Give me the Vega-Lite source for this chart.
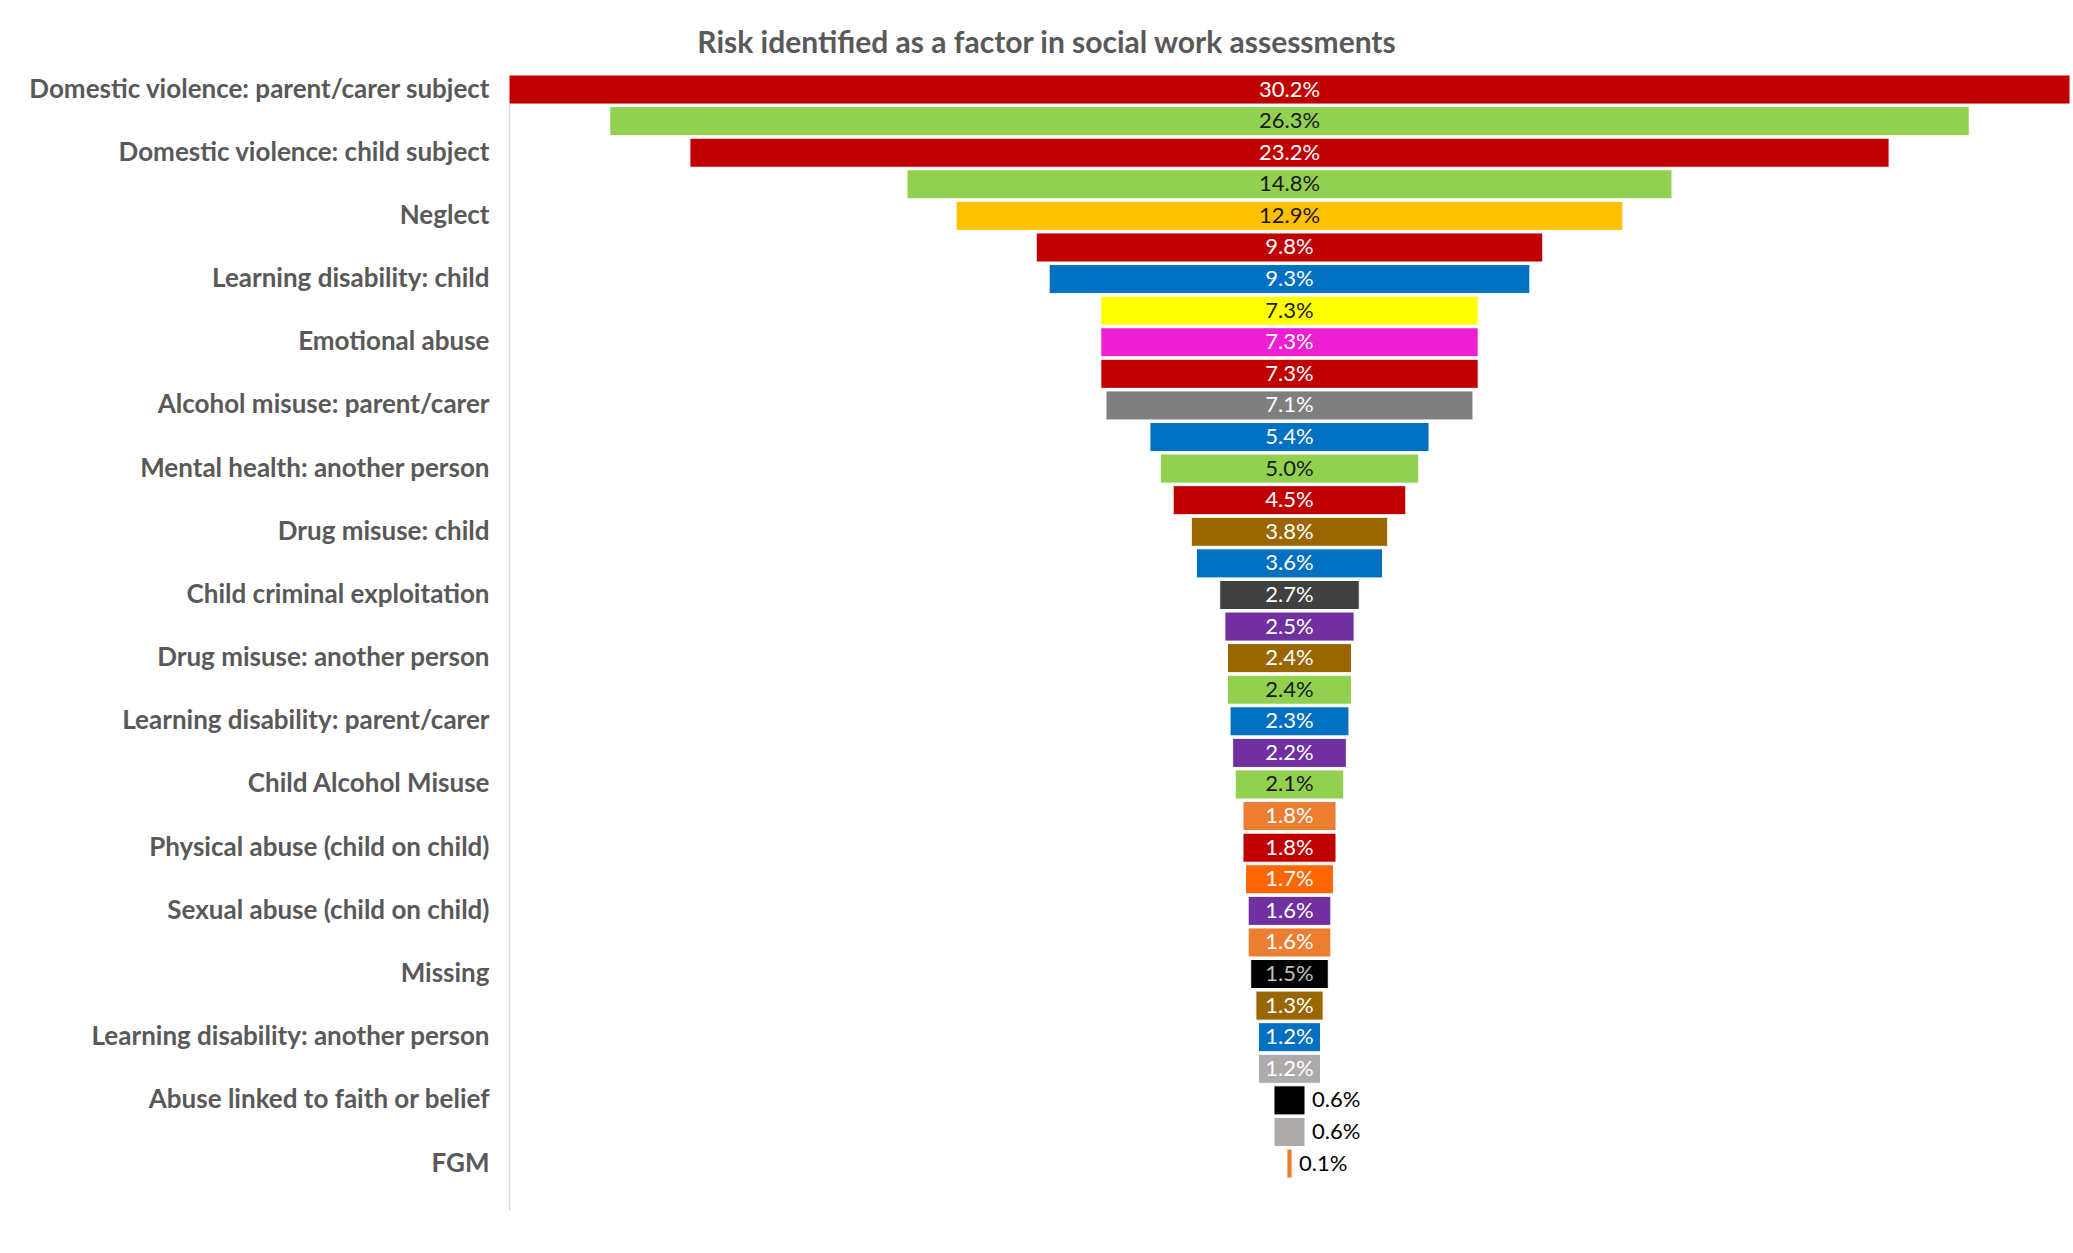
{
  "$schema": "https://vega.github.io/schema/vega-lite/v6.json",
  "autosize": {"type": "none"},
  "padding": {"left": 509, "top": 75, "right": 3, "bottom": 43},
  "width": 1561,
  "height": 1135,
  "background": "white",
  "title": {
    "text": "Risk identified as a factor in social work assessments",
    "font": "Lato",
    "fontSize": 30,
    "fontWeight": "bold",
    "color": "#595959",
    "anchor": "middle",
    "frame": "group",
    "baseline": "bottom",
    "offset": -14,
    "dx": -243
  },
  "data": {
    "values": [
      {"factor": "Domestic violence: parent/carer subject", "share": 0.302},
      {"factor": "Mental health: parent/carer", "share": 0.263},
      {"factor": "Domestic violence: child subject", "share": 0.232},
      {"factor": "Domestic violence: another person subject", "share": 0.148},
      {"factor": "Neglect", "share": 0.129},
      {"factor": "Physical abuse: adult on child", "share": 0.098},
      {"factor": "Learning disability: child", "share": 0.093},
      {"factor": "Mental health: child", "share": 0.073},
      {"factor": "Emotional abuse", "share": 0.073},
      {"factor": "Drug misuse: parent/carer", "share": 0.073},
      {"factor": "Alcohol misuse: parent/carer", "share": 0.071},
      {"factor": "Socially unacceptable behaviour", "share": 0.054},
      {"factor": "Mental health: another person", "share": 0.050},
      {"factor": "Self-harm", "share": 0.045},
      {"factor": "Drug misuse: child", "share": 0.038},
      {"factor": "Physical disability or illness: child", "share": 0.036},
      {"factor": "Child criminal exploitation", "share": 0.027},
      {"factor": "Sexual abuse: adult on child", "share": 0.025},
      {"factor": "Drug misuse: another person", "share": 0.024},
      {"factor": "Physical disability or illness: parent/carer", "share": 0.024},
      {"factor": "Learning disability: parent/carer", "share": 0.023},
      {"factor": "Child sexual exploitation", "share": 0.022},
      {"factor": "Child Alcohol Misuse", "share": 0.021},
      {"factor": "Alcohol misuse: another person", "share": 0.018},
      {"factor": "Physical abuse (child on child)", "share": 0.018},
      {"factor": "Gangs", "share": 0.017},
      {"factor": "Sexual abuse (child on child)", "share": 0.016},
      {"factor": "Young carer", "share": 0.016},
      {"factor": "Missing", "share": 0.015},
      {"factor": "Physical disability or illness: another person", "share": 0.013},
      {"factor": "Learning disability: another person", "share": 0.012},
      {"factor": "Unaccompanied asylum seeking child", "share": 0.012},
      {"factor": "Abuse linked to faith or belief", "share": 0.006},
      {"factor": "Trafficking", "share": 0.006},
      {"factor": "FGM", "share": 0.001}
    ]
  },
  "encoding": {
    "y": {
      "field": "factor",
      "type": "nominal",
      "sort": null,
      "title": null,
      "scale": {"paddingInner": 0.08, "paddingOuter": 0.505, "align": 0},
      "axis": {
        "domainColor": "#D9D9D9",
        "domainWidth": 1.5,
        "ticks": false,
        "grid": false,
        "labelPadding": 20,
        "labelFont": "Lato",
        "labelFontSize": 26,
        "labelFontWeight": "bold",
        "labelColor": "#595959",
        "labelLimit": 600,
        "labelExpr": "round(datum.index * 34) % 2 == 0 ? datum.label : ''"
      }
    }
  },
  "layer": [
    {
      "mark": {"type": "bar", "stroke": "white", "strokeWidth": 1},
      "encoding": {
        "x": {
          "field": "share",
          "type": "quantitative",
          "stack": "center",
          "scale": {"domain": [0, 0.302], "nice": false},
          "axis": null
        },
        "color": {
          "field": "factor",
          "type": "nominal",
          "legend": null,
          "scale": {
            "domain": [
              "Domestic violence: parent/carer subject",
              "Mental health: parent/carer",
              "Domestic violence: child subject",
              "Domestic violence: another person subject",
              "Neglect",
              "Physical abuse: adult on child",
              "Learning disability: child",
              "Mental health: child",
              "Emotional abuse",
              "Drug misuse: parent/carer",
              "Alcohol misuse: parent/carer",
              "Socially unacceptable behaviour",
              "Mental health: another person",
              "Self-harm",
              "Drug misuse: child",
              "Physical disability or illness: child",
              "Child criminal exploitation",
              "Sexual abuse: adult on child",
              "Drug misuse: another person",
              "Physical disability or illness: parent/carer",
              "Learning disability: parent/carer",
              "Child sexual exploitation",
              "Child Alcohol Misuse",
              "Alcohol misuse: another person",
              "Physical abuse (child on child)",
              "Gangs",
              "Sexual abuse (child on child)",
              "Young carer",
              "Missing",
              "Physical disability or illness: another person",
              "Learning disability: another person",
              "Unaccompanied asylum seeking child",
              "Abuse linked to faith or belief",
              "Trafficking",
              "FGM"
            ],
            "range": [
              "#C00000", "#92D050", "#C00000", "#92D050", "#FFC000",
              "#C00000", "#0070C0", "#FFFF00", "#EE1ED2", "#C00000",
              "#7F7F7F", "#0070C0", "#92D050", "#C00000", "#996600",
              "#0070C0", "#404040", "#7030A0", "#996600", "#92D050",
              "#0070C0", "#7030A0", "#92D050", "#ED7D31", "#C00000",
              "#FF6600", "#7030A0", "#ED7D31", "#000000", "#996600",
              "#0070C0", "#AEAAAA", "#000000", "#AEAAAA", "#ED7D31"
            ]
          }
        }
      }
    },
    {
      "mark": {"type": "text", "font": "Lato", "fontSize": 22, "baseline": "middle", "align": "center"},
      "encoding": {
        "x": {"field": "share", "type": "quantitative", "stack": "center", "bandPosition": 0.5},
        "text": {
          "condition": {"test": "datum.share >= 0.01", "field": "share", "type": "quantitative", "format": ".1%"},
          "value": ""
        },
        "color": {
          "condition": [
            {
              "test": "indexof(['Mental health: parent/carer', 'Domestic violence: another person subject', 'Neglect', 'Mental health: child', 'Mental health: another person', 'Physical disability or illness: parent/carer', 'Child Alcohol Misuse'], datum.factor) >= 0",
              "value": "#1A1A1A"
            },
            {"test": "datum.factor == 'Missing'", "value": "#BFBFBF"}
          ],
          "value": "#FFFFFF"
        }
      }
    },
    {
      "mark": {"type": "text", "font": "Lato", "fontSize": 22, "baseline": "middle", "align": "left", "dx": 7, "color": "#000000"},
      "encoding": {
        "x": {"field": "share", "type": "quantitative", "stack": "center"},
        "text": {
          "condition": {"test": "datum.share < 0.01", "field": "share", "type": "quantitative", "format": ".1%"},
          "value": ""
        }
      }
    }
  ],
  "config": {"view": {"stroke": null}}
}
